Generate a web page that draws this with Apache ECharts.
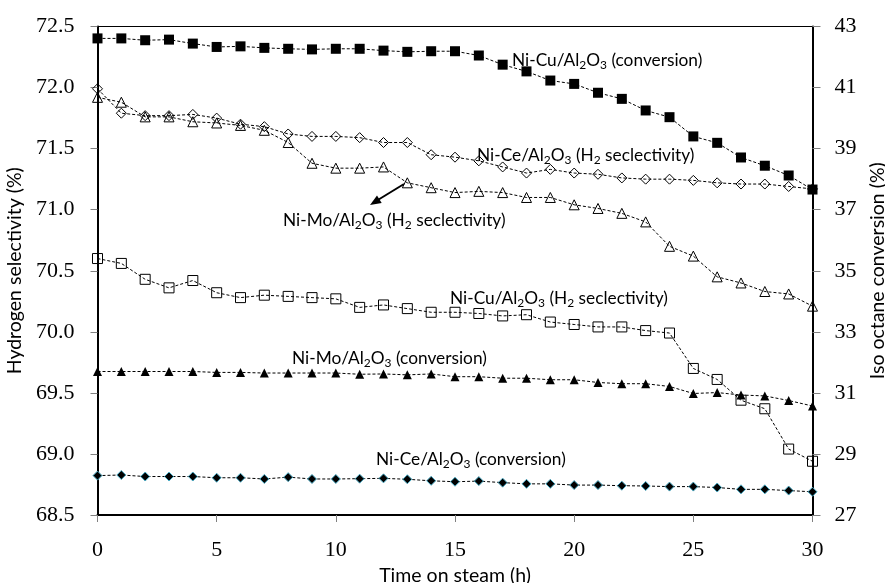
<!DOCTYPE html>
<html>
<head>
<meta charset="utf-8">
<title>Hydrogen selectivity and iso-octane conversion vs. time on steam</title>
<script src="https://cdn.jsdelivr.net/npm/echarts@6/dist/echarts.min.js"></script>
<style>
  html, body { margin: 0; padding: 0; background: #fff; }
  #chart { width: 885px; height: 583px; }
</style>
</head>
<body>
<div id="chart"></div>
<script>
// Time on steam (h)
const hours = [0, 1, 2, 3, 4, 5, 6, 7, 8, 9, 10, 11, 12, 13, 14, 15, 16, 17, 18, 19, 20, 21, 22, 23, 24, 25, 26, 27, 28, 29, 30];

// Iso-octane conversion (%), right axis
const niCuConv = [42.61, 42.61, 42.55, 42.57, 42.44, 42.33, 42.35, 42.30, 42.27, 42.25, 42.27, 42.27, 42.21, 42.17, 42.19, 42.19, 42.05, 41.75, 41.53, 41.23, 41.12, 40.83, 40.63, 40.25, 40.03, 39.40, 39.19, 38.71, 38.44, 38.12, 37.66];
const niMoConv = [31.70, 31.70, 31.70, 31.70, 31.70, 31.67, 31.67, 31.65, 31.65, 31.65, 31.65, 31.61, 31.62, 31.59, 31.62, 31.53, 31.53, 31.48, 31.48, 31.43, 31.43, 31.34, 31.30, 31.30, 31.21, 30.98, 31.01, 30.93, 30.90, 30.75, 30.57];
const niCeConv = [28.29, 28.31, 28.26, 28.26, 28.26, 28.22, 28.22, 28.18, 28.24, 28.18, 28.18, 28.19, 28.20, 28.17, 28.12, 28.09, 28.11, 28.06, 28.02, 28.02, 27.98, 27.98, 27.96, 27.95, 27.93, 27.93, 27.90, 27.84, 27.84, 27.80, 27.76];

// Hydrogen selectivity (%), left axis
const niCeSel = [71.99, 71.79, 71.77, 71.77, 71.78, 71.75, 71.70, 71.68, 71.62, 71.60, 71.60, 71.59, 71.55, 71.55, 71.45, 71.43, 71.40, 71.35, 71.30, 71.33, 71.30, 71.29, 71.26, 71.25, 71.25, 71.24, 71.22, 71.21, 71.21, 71.19, 71.17];
const niMoSel = [71.92, 71.88, 71.76, 71.76, 71.72, 71.71, 71.69, 71.65, 71.55, 71.38, 71.34, 71.34, 71.35, 71.22, 71.18, 71.14, 71.15, 71.14, 71.10, 71.10, 71.04, 71.01, 70.97, 70.90, 70.70, 70.62, 70.45, 70.40, 70.33, 70.31, 70.21];
const niCuSel = [70.60, 70.56, 70.43, 70.36, 70.42, 70.32, 70.28, 70.30, 70.29, 70.28, 70.27, 70.20, 70.22, 70.19, 70.16, 70.16, 70.15, 70.13, 70.14, 70.08, 70.06, 70.04, 70.04, 70.01, 69.99, 69.70, 69.61, 69.44, 69.37, 69.04, 68.94];

const pairs = vals => hours.map((h, i) => [h, vals[i]]);

const SERIF = '"Liberation Serif", "Times New Roman", serif';
const SANS = 'Lato, "Open Sans", sans-serif';

const dashed = { color: '#000', width: 1, type: [3, 2] };
const openMark = { color: 'rgba(0,0,0,0)', borderColor: '#000', borderWidth: 1 };

function series(name, vals, axis, symbol, size, itemStyle) {
  return {
    name, type: 'line', yAxisIndex: axis, data: pairs(vals),
    symbol, symbolSize: size, showAllSymbol: true,
    lineStyle: dashed, itemStyle, emphasis: { disabled: true }
  };
}

// Rich-text label with chemical subscripts
const richStyles = {
  t: { fontFamily: SANS, fontSize: 17.3, color: '#000', lineHeight: 22, verticalAlign: 'middle' },
  s: { fontFamily: SANS, fontSize: 12, color: '#000', lineHeight: 13, verticalAlign: 'bottom' }
};
function label(x, y, parts) {
  return {
    type: 'text', x, y, z: 10,
    style: {
      text: parts.map(p => Array.isArray(p) ? `{s|${p[0]}}` : `{t|${p}}`).join(''),
      rich: richStyles, verticalAlign: 'middle', align: 'left'
    }
  };
}

const titleStyle = { fontFamily: SANS, fontSize: 19.5, color: '#000' };

const chart = echarts.init(document.getElementById('chart'), null, { renderer: 'canvas' });

chart.setOption({
  animation: false,
  backgroundColor: '#fff',
  grid: {
    left: 97.5, right: 72.5, top: 26.5, bottom: 68,
    outerBoundsMode: 'none', containLabel: false,
    show: true, borderColor: '#000', borderWidth: 1
  },
  xAxis: {
    type: 'value', min: 0, max: 30, interval: 5,
    name: 'Time on steam (h)', nameLocation: 'middle', nameGap: 40,
    nameTextStyle: titleStyle,
    axisLine: { lineStyle: { color: '#000', width: 2 } },
    axisTick: { show: true, length: 7, lineStyle: { color: '#808080', width: 1 } },
    axisLabel: { fontFamily: SERIF, fontSize: 22, color: '#000', margin: 24 },
    splitLine: { show: false }
  },
  yAxis: [
    {
      type: 'value', position: 'left', min: 68.5, max: 72.5, interval: 0.5,
      name: 'Hydrogen selectivity (%)', nameLocation: 'middle', nameGap: 58, nameRotate: 90,
      nameTextStyle: titleStyle,
      axisLine: { show: true, lineStyle: { color: '#000', width: 2 } },
      axisTick: { show: true, length: 7, lineStyle: { color: '#808080', width: 1 } },
      axisLabel: { fontFamily: SERIF, fontSize: 22, color: '#000', margin: 23, formatter: v => v.toFixed(1) },
      splitLine: { show: false }
    },
    {
      type: 'value', position: 'right', min: 27, max: 43, interval: 2,
      name: 'Iso octane conversion (%)', nameLocation: 'middle', nameGap: 31, nameRotate: 90,
      nameTextStyle: titleStyle,
      axisLine: { show: true, lineStyle: { color: '#000', width: 2 } },
      axisTick: { show: true, length: 8, lineStyle: { color: '#808080', width: 1 } },
      axisLabel: { fontFamily: SERIF, fontSize: 22, color: '#000', margin: 22 },
      splitLine: { show: false }
    }
  ],
  series: [
    series('Ni-Ce/Al2O3 (H2 selectivity)', niCeSel, 0, 'diamond', 10, openMark),
    series('Ni-Mo/Al2O3 (H2 selectivity)', niMoSel, 0, 'triangle', 10, openMark),
    series('Ni-Cu/Al2O3 (H2 selectivity)', niCuSel, 0, 'rect', 10, openMark),
    series('Ni-Cu/Al2O3 (conversion)', niCuConv, 1, 'rect', 10, { color: '#000' }),
    series('Ni-Mo/Al2O3 (conversion)', niMoConv, 1, 'triangle', 9, { color: '#000' }),
    series('Ni-Ce/Al2O3 (conversion)', niCeConv, 1, 'diamond', 9, { color: '#000', borderColor: '#4bacc6', borderWidth: 1 })
  ],
  graphic: [
    label(512, 60, ['Ni-Cu/Al', ['2'], 'O', ['3'], ' (conversion)']),
    label(477, 155, ['Ni-Ce/Al', ['2'], 'O', ['3'], ' (H', ['2'], ' seclectivity)']),
    label(283, 220, ['Ni-Mo/Al', ['2'], 'O', ['3'], ' (H', ['2'], ' seclectivity)']),
    label(450, 298, ['Ni-Cu/Al', ['2'], 'O', ['3'], ' (H', ['2'], ' seclectivity)']),
    label(292, 358, ['Ni-Mo/Al', ['2'], 'O', ['3'], ' (conversion)']),
    label(376, 459, ['Ni-Ce/Al', ['2'], 'O', ['3'], ' (conversion)']),
    // Pointer from the Ni-Mo selectivity label to its curve
    { type: 'line', z: 10, shape: { x1: 404, y1: 184, x2: 377, y2: 200.5 }, style: { stroke: '#000', lineWidth: 2 } },
    { type: 'polygon', z: 10, shape: { points: [[370, 205], [381.7, 203.0], [377.0, 195.4]] }, style: { fill: '#000' } }
  ]
});
</script>
</body>
</html>
